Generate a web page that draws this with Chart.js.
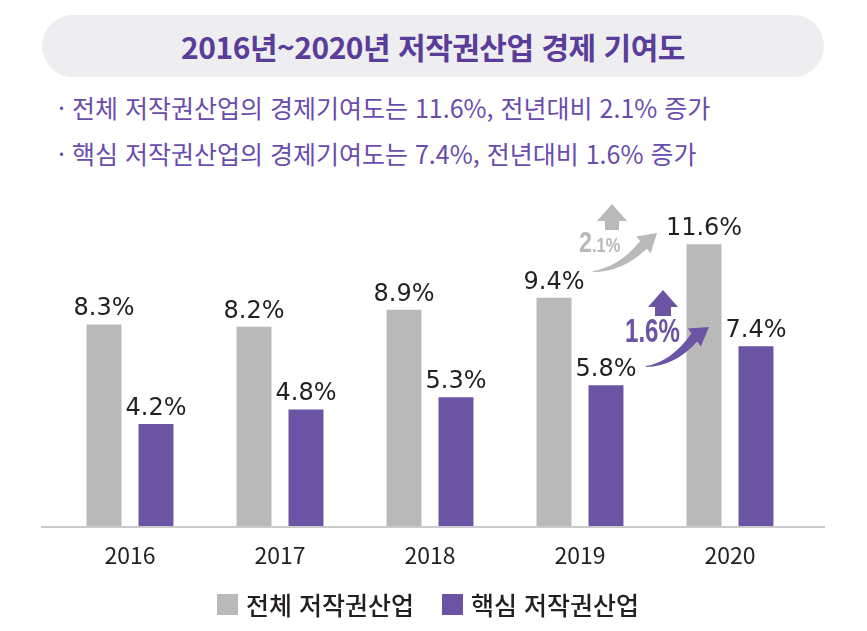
<!DOCTYPE html>
<html lang="ko">
<head>
<meta charset="utf-8">
<title>2016년~2020년 저작권산업 경제 기여도</title>
<script src="https://cdn.jsdelivr.net/npm/chart.js@4.4.1/dist/chart.umd.min.js"></script>
<style>
    html, body { margin: 0; padding: 0; background: #fff; }
    #page {
        position: relative;
        width: 867px;
        height: 631px;
        overflow: hidden;
        font-family: 'Noto Sans CJK KR', 'Noto Sans', sans-serif;
    }
    .title-pill {
        position: absolute;
        left: 42px;
        top: 15px;
        width: 782px;
        height: 62px;
        border-radius: 31px;
        background: #eeeef0;
        display: flex;
        align-items: center;
        justify-content: center;
    }
    .title-pill h1 {
        margin: 0;
        font-size: 30px;
        font-weight: 700;
        color: #5a3d9a;
        letter-spacing: -0.5px;
    }
    .bullets {
        position: absolute;
        left: 58px;
        top: 89px;
        margin: 0;
        padding: 0;
        list-style: none;
        color: #6a4cad;
        font-size: 25px;
    }
    .bullets li { height: 46px; line-height: 36px; }
    #chart-wrap {
        position: absolute;
        left: 0;
        top: 180px;
        width: 867px;
        height: 451px;
    }
    .legend {
        position: absolute;
        left: 217px;
        top: 589px;
        height: 30px;
        line-height: 30px;
        display: flex;
        align-items: center;
        font-size: 25px;
        font-weight: 500;
        color: #231f20;
    }
    .legend span.box {
        display: inline-block;
        width: 21px;
        height: 21px;
        margin-right: 8px;
    }
    .legend .item { display: flex; align-items: center; margin-right: 28px; }
</style>
</head>
<body>
<div id="page">
    <div class="title-pill"><h1>2016년~2020년 저작권산업 경제 기여도</h1></div>
    <ul class="bullets">
        <li>· 전체 저작권산업의 경제기여도는 11.6%, 전년대비 2.1% 증가</li>
        <li>· 핵심 저작권산업의 경제기여도는 7.4%, 전년대비 1.6% 증가</li>
    </ul>
    <div id="chart-wrap"><canvas id="shareChart"></canvas></div>
    <div class="legend" id="legend"></div>
</div>
<script>
const years = ['2016', '2017', '2018', '2019', '2020'];
const totalShare = [8.3, 8.2, 8.9, 9.4, 11.6];
const coreShare = [4.2, 4.8, 5.3, 5.8, 7.4];
const seriesNames = ['전체 저작권산업', '핵심 저작권산업'];
const seriesColors = ['#b9b9b9', '#6c54a4'];
const growthLabels = ['2.1', '1.6'];

// legend (html)
const legendEl = document.getElementById('legend');
seriesNames.forEach((name, i) => {
    const item = document.createElement('div');
    item.className = 'item';
    item.innerHTML = `<span class="box" style="background:${seriesColors[i]}"></span>${name}`;
    legendEl.appendChild(item);
});

const baselinePlugin = {
    id: 'baseline',
    beforeDatasetsDraw(chart) {
        const { ctx, chartArea } = chart;
        const y = chart.scales.y.getPixelForValue(0);
        ctx.save();
        ctx.strokeStyle = '#cacaca';
        ctx.lineWidth = 2;
        ctx.beginPath();
        ctx.moveTo(chartArea.left - 14, y + 1);
        ctx.lineTo(chartArea.right + 20, y + 1);
        ctx.stroke();
        ctx.restore();
    }
};

const valueLabelPlugin = {
    id: 'valueLabels',
    afterDatasetsDraw(chart) {
        const { ctx } = chart;
        ctx.save();
        ctx.fillStyle = '#231f20';
        ctx.font = '400 24px "DejaVu Sans", sans-serif';
        ctx.textAlign = 'center';
        ctx.textBaseline = 'alphabetic';
        chart.data.datasets.forEach((ds, di) => {
            chart.getDatasetMeta(di).data.forEach((bar, i) => {
                ctx.fillText(ds.data[i].toFixed(1) + '%', bar.x, bar.y - 9);
            });
        });
        ctx.restore();
    }
};

function curvedArrow(ctx, tx, ty, px, py, angle, color) {
    const cos = Math.cos(angle), sin = Math.sin(angle);
    const headLen = 18, headHalf = 11, neck = 5;
    const bx = px - headLen * cos, by = py - headLen * sin;
    const nx = -sin, ny = cos;
    const cx = bx - 0.45 * (bx - tx), cy = ty - 0.1 * (ty - by);
    ctx.fillStyle = color;
    ctx.beginPath();
    ctx.moveTo(tx, ty);
    ctx.quadraticCurveTo(cx - nx * 2, cy - ny * 2, bx - nx * neck, by - ny * neck);
    ctx.lineTo(bx - nx * headHalf, by - ny * headHalf);
    ctx.lineTo(px, py);
    ctx.lineTo(bx + nx * headHalf, by + ny * headHalf);
    ctx.lineTo(bx + nx * neck, by + ny * neck);
    ctx.quadraticCurveTo(cx + nx * 4, cy + ny * 4, tx, ty + 1);
    ctx.closePath();
    ctx.fill();
}

function upArrow(ctx, x, tipY, baseY, bottomY, half, stemHalf, color) {
    ctx.fillStyle = color;
    ctx.beginPath();
    ctx.moveTo(x, tipY);
    ctx.lineTo(x + half, baseY);
    ctx.lineTo(x + stemHalf, baseY);
    ctx.lineTo(x + stemHalf, bottomY);
    ctx.lineTo(x - stemHalf, bottomY);
    ctx.lineTo(x - stemHalf, baseY);
    ctx.lineTo(x - half, baseY);
    ctx.closePath();
    ctx.fill();
}

// condensed bold text: draw with a horizontal squeeze
function narrowText(ctx, text, x, y, size, squeeze) {
    ctx.save();
    ctx.font = `bold ${size}px "Liberation Sans", Arial, sans-serif`;
    ctx.translate(x, y);
    ctx.scale(squeeze, 1);
    ctx.fillText(text, 0, 0);
    const w = ctx.measureText(text).width * squeeze;
    ctx.restore();
    return w;
}

const growthPlugin = {
    id: 'growthArrows',
    afterDatasetsDraw(chart) {
        const { ctx } = chart;
        const xs = chart.scales.x, ys = chart.scales.y;
        const mid = (xs.getPixelForValue(3) + xs.getPixelForValue(4)) / 2;
        const y0 = ys.getPixelForValue(0);
        ctx.save();
        ctx.textBaseline = 'alphabetic';
        ctx.textAlign = 'left';

        // total: gray
        curvedArrow(ctx, mid - 62, y0 - 255, mid + 2, y0 - 293, -0.72, seriesColors[0]);
        upArrow(ctx, mid - 43, y0 - 322, y0 - 305, y0 - 296, 15, 7, seriesColors[0]);
        ctx.fillStyle = seriesColors[0];
        const [gInt, gDec] = growthLabels[0].split('.');
        const w = narrowText(ctx, gInt, mid - 76, y0 - 274, 30, 0.78);
        narrowText(ctx, '.' + gDec + '%', mid - 76 + w, y0 - 274, 21, 0.78);

        // core: purple
        curvedArrow(ctx, mid - 9, y0 - 160, mid + 54, y0 - 199, -0.62, seriesColors[1]);
        upArrow(ctx, mid + 8, y0 - 236, y0 - 219, y0 - 210, 15, 8, seriesColors[1]);
        ctx.fillStyle = seriesColors[1];
        narrowText(ctx, growthLabels[1] + '%', mid - 30, y0 - 184, 33, 0.73);

        ctx.restore();
    }
};

new Chart(document.getElementById('shareChart'), {
    type: 'bar',
    data: {
        labels: years,
        datasets: [
            { label: seriesNames[0], data: totalShare, backgroundColor: seriesColors[0] },
            { label: seriesNames[1], data: coreShare, backgroundColor: seriesColors[1] }
        ]
    },
    options: {
        responsive: true,
        maintainAspectRatio: false,
        animation: false,
        categoryPercentage: 0.693,
        barPercentage: 0.673,
        layout: { padding: { left: 55, right: 62, top: 6, bottom: 45 } },
        plugins: {
            legend: { display: false },
            tooltip: { enabled: false }
        },
        scales: {
            x: {
                grid: { display: false, drawTicks: false },
                border: { display: false },
                ticks: {
                    color: '#231f20',
                    padding: 15,
                    font: { family: "'Noto Sans CJK KR', sans-serif", size: 23, weight: '400' }
                },
                afterFit(scale) { scale.height = 60; }
            },
            y: {
                display: false,
                min: 0,
                max: 14
            }
        }
    },
    plugins: [baselinePlugin, valueLabelPlugin, growthPlugin]
});
</script>
</body>
</html>
